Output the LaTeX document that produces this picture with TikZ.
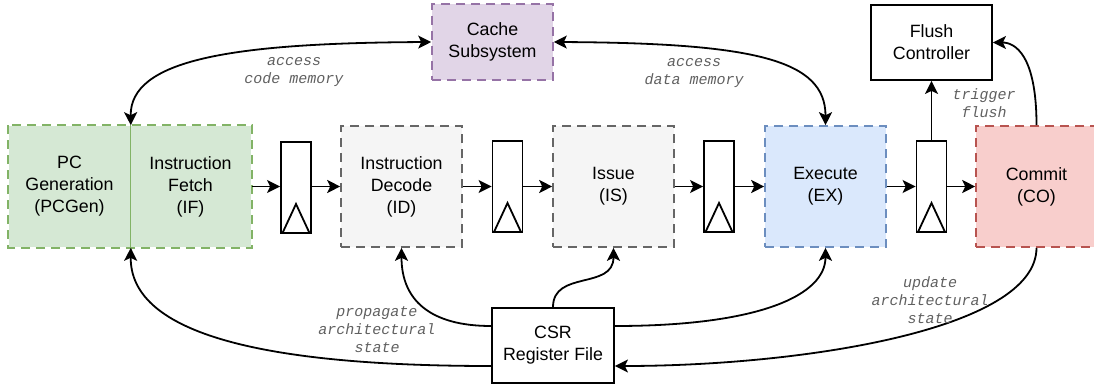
\documentclass[tikz,border=0pt]{standalone}
\usepackage{fontspec}
\setmainfont{Liberation Sans}
\newfontfamily\lblfont{Liberation Mono}
\usetikzlibrary{arrows.meta}
\definecolor{grnfill}{HTML}{D5E8D4}\definecolor{grnline}{HTML}{82B366}
\definecolor{gryfill}{HTML}{F5F5F5}\definecolor{gryline}{HTML}{666666}
\definecolor{blufill}{HTML}{DAE8FC}\definecolor{bluline}{HTML}{6C8EBF}
\definecolor{redfill}{HTML}{F8CECC}\definecolor{redline}{HTML}{B85450}
\definecolor{purfill}{HTML}{E1D5E7}\definecolor{purline}{HTML}{9673A6}
\definecolor{lblgray}{HTML}{606060}
\tikzset{
  txt/.style={font=\fontsize{17.8}{22}\selectfont, align=center, text=black},
  stagebox/.style={txt, minimum width=121pt, minimum height=121pt, inner sep=0pt,
                   line width=1.6pt, dash pattern=on 9pt off 6pt},
  plainbox/.style={txt, draw=black, line width=1.8pt, inner sep=0pt},
  regbox/.style={draw=black, line width=1.8pt, minimum width=30pt, minimum height=91pt, inner sep=0pt,
    path picture={\draw[line width=1.8pt]
      ([xshift=1.5pt]path picture bounding box.south west) --
      ([yshift=29pt]path picture bounding box.south) --
      ([xshift=-1.5pt]path picture bounding box.south east);}},
  conn/.style={line width=1.8pt, -{Stealth[length=13pt,width=13pt,inset=3pt]}},
  dconn/.style={line width=1.8pt, {Stealth[length=13pt,width=13pt,inset=3pt]}-{Stealth[length=13pt,width=13pt,inset=3pt]}},
  lbl/.style={font=\lblfont\itshape\fontsize{15}{18}\selectfont, text=lblgray, align=center, inner sep=0pt}
}
\begin{document}
\begin{tikzpicture}[x=1pt,y=-1pt]
\useasboundingbox (0,0) rectangle (1094,385);
% stages
\node[stagebox, fill=grnfill] (pcgen) at (69.5,186.5) {PC\\Generation\\(PCGen)};
\node[stagebox, fill=grnfill] (ifetch) at (190.5,186.5) {Instruction\\Fetch\\(IF)};
\draw[grnline, line width=1.6pt, dash pattern=on 9pt off 6pt] (pcgen.north west) rectangle (ifetch.south east);
\draw[grnline, line width=0.8pt] (pcgen.north east) -- (pcgen.south east);
\node[regbox] (reg1) at (296,187.5) {};
\node[stagebox, fill=gryfill, draw=gryline] (id) at (401.5,186.5) {Instruction\\Decode\\(ID)};
\node[regbox] (reg2) at (507.5,186.5) {};
\node[stagebox, fill=gryfill, draw=gryline] (issue) at (613.5,186.5) {Issue\\(IS)};
\node[regbox] (reg3) at (719,186.5) {};
\node[stagebox, fill=blufill, draw=bluline] (ex) at (825.5,186.5) {Execute\\(EX)};
\node[regbox] (reg4) at (931.5,186.5) {};
\node[stagebox, fill=redfill, draw=redline] (commit) at (1036.5,186.5) {Commit\\(CO)};
% top boxes
\node[stagebox, fill=purfill, draw=purline, minimum height=76pt] (cache) at (492.5,42) {Cache\\Subsystem};
\node[plainbox, minimum width=121pt, minimum height=75pt] (flush) at (931.5,42.5) {Flush\\Controller};
\node[plainbox, minimum width=122pt, minimum height=75pt] (csr) at (553,345.5) {CSR\\Register File};
% pipeline arrows
\draw[conn] (ifetch.east) -- (reg1.west |- ifetch.east);
\draw[conn] (reg1.east |- id.west) -- (id.west);
\draw[conn] (id.east) -- (reg2.west);
\draw[conn] (reg2.east) -- (issue.west);
\draw[conn] (issue.east) -- (reg3.west);
\draw[conn] (reg3.east) -- (ex.west);
\draw[conn] (ex.east) -- (reg4.west);
\draw[conn] (reg4.east) -- (commit.west);
% memory access
\draw[dconn] (cache.west) .. controls (230,43) and (130,60) .. (pcgen.north east);
\draw[dconn] (cache.east) .. controls (755,43) and (825.5,60) .. (ex.north);
% flush
\draw[conn] (reg4.north) -- (flush.south);
\draw[conn] (commit.north) .. controls (1036.5,55) and (1015,42.5) .. (flush.east);
% CSR
\draw[conn] ([yshift=19.5pt]csr.west) .. controls (430,326) and (401.5,300) .. (id.south);
\draw[conn] (csr.north) .. controls (553,270) and (613.5,290) .. (issue.south);
\draw[conn] ([yshift=19.5pt]csr.east) .. controls (760,326) and (825.5,295) .. (ex.south);
\draw[conn] ([yshift=-20.5pt]csr.west) .. controls (250,366) and (130,330) .. (pcgen.south east);
\draw[conn] (commit.south) .. controls (1036.5,330) and (800,366) .. ([yshift=-20.5pt]csr.east);
% labels
\node[lbl] (lcode) at (294,72) {access\\code memory};
\node[lbl] (ldata) at (694,73) {access\\data memory};
\node[lbl] (ltrig) at (984,103.5) {trigger\\flush};
\node[lbl] (lprop) at (377,330) {propagate\\architectural\\state};
\node[lbl] (lupd) at (930,300) {update\\architectural\\state};
\end{tikzpicture}
\end{document}
